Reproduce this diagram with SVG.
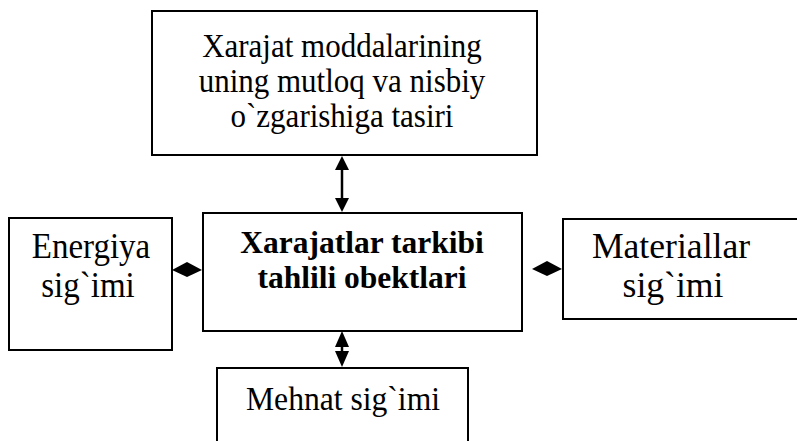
<svg xmlns="http://www.w3.org/2000/svg" width="797" height="441" viewBox="0 0 797 441">
  <defs>
    <style>
      .box { fill: #ffffff; stroke: #000000; stroke-width: 2; }
      .lbl { font-family: "Liberation Serif", "Times New Roman", serif; font-size: 31px; fill: #000000; text-anchor: middle; }
      .side { font-size: 33px; }
      .bold { font-weight: bold; font-size: 31.5px; }
      .link { stroke: #000000; stroke-width: 2.5; fill: none; }
      .head { fill: #000000; }
    </style>
  </defs>
  <rect width="797" height="441" fill="#ffffff"/>

  <g id="node-top">
    <rect class="box" x="152" y="11" width="385" height="144"/>
    <text class="lbl" transform="translate(342,57) scale(1,1.12)">Xarajat moddalarining</text>
    <text class="lbl" transform="translate(342,92) scale(1,1.12)">uning mutloq va nisbiy</text>
    <text class="lbl" transform="translate(342,127) scale(1,1.12)">o`zgarishiga tasiri</text>
  </g>

  <g id="node-center">
    <rect class="box" x="203" y="213" width="319" height="118"/>
    <text class="lbl bold" x="362" y="253">Xarajatlar tarkibi</text>
    <text class="lbl bold" x="362" y="288">tahlili obektlari</text>
  </g>

  <g id="node-left">
    <rect class="box" x="9" y="218" width="163" height="132"/>
    <text class="lbl side" transform="translate(91,258) scale(1,1.08)">Energiya</text>
    <text class="lbl side" transform="translate(88,297) scale(1,1.08)">sig`imi</text>
  </g>

  <g id="node-right">
    <rect class="box" x="563" y="219" width="240" height="100"/>
    <text class="lbl side" transform="translate(671,258) scale(1.08,1.08)">Materiallar</text>
    <text class="lbl side" transform="translate(673,297) scale(1.08,1.08)">sig`imi</text>
  </g>

  <g id="node-bottom">
    <rect class="box" x="217" y="368" width="251" height="80"/>
    <text class="lbl" transform="translate(343,410) scale(1.02,1.12)">Mehnat sig`imi</text>
  </g>

  <g id="connectors">
    <!-- top box to center box, arrowheads at both ends -->
    <line class="link" x1="342" y1="165" x2="342" y2="202"/>
    <polygon class="head" points="342,156 335,170 349,170"/>
    <polygon class="head" points="342,212 335,198 349,198"/>
    <!-- center box to bottom box -->
    <line class="link" x1="342" y1="340" x2="342" y2="358"/>
    <polygon class="head" points="342,331 335,347 349,347"/>
    <polygon class="head" points="342,367 335,351 349,351"/>
    <!-- diamond joints to side boxes -->
    <polygon class="head" points="172,270 187,262 202,270 187,277"/>
    <polygon class="head" points="532,269 547,261 562,269 547,276"/>
  </g>
</svg>
